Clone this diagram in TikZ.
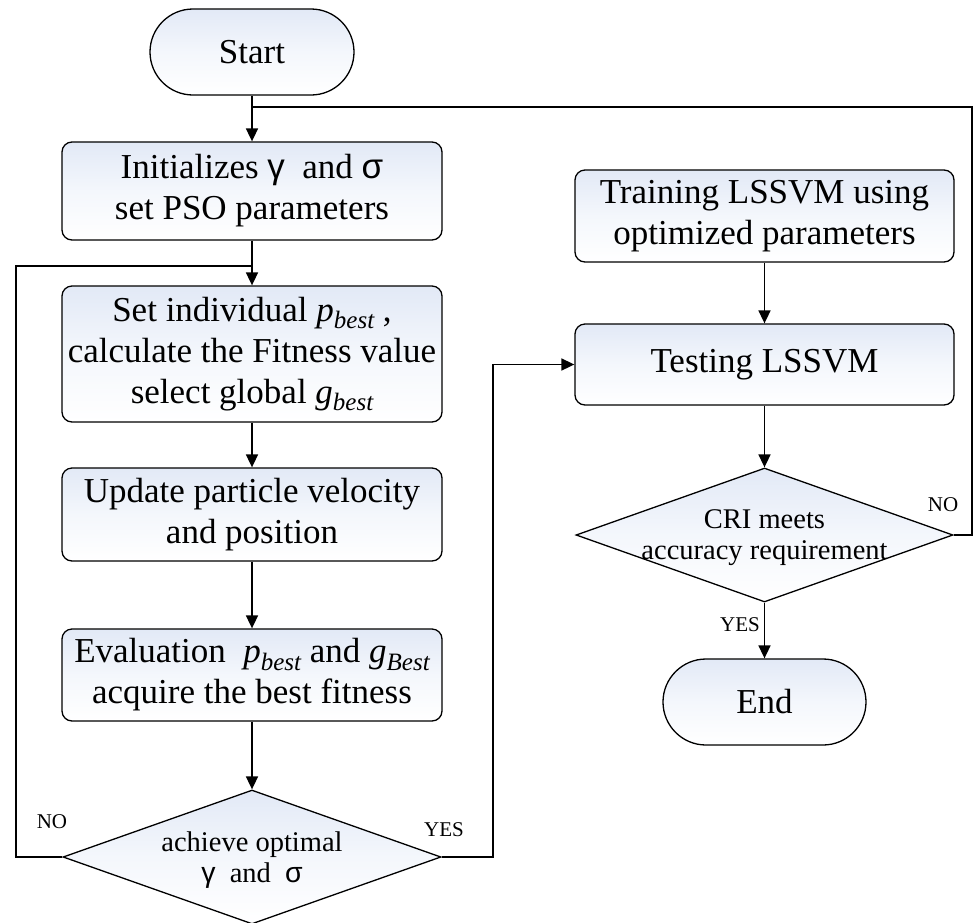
\documentclass[tikz,border=0pt]{standalone}
\usepackage{fontspec}
\setmainfont{Liberation Serif}
\newfontfamily\gfont{Liberation Sans}
\usetikzlibrary{arrows.meta,shapes.geometric}
\definecolor{topc}{RGB}{226,233,246}
\definecolor{midc}{RGB}{244,247,252}
\newcommand{\mysub}[2]{\textit{#1}\raisebox{-0.22em}{\fontsize{25}{25}\selectfont\itshape #2}}
\begin{document}
\begin{tikzpicture}[x=1pt,y=-1pt,
  box/.style={draw, line width=1.3pt, rounded corners=10pt, top color=topc, bottom color=white, middle color=midc,
    minimum width=380pt, align=center, font=\fontsize{35}{41}\selectfont, inner sep=0pt},
  term/.style={box, rounded corners=43pt, minimum width=204pt, minimum height=86pt},
  dec/.style={diamond, draw, line width=1.3pt, top color=topc, bottom color=white, middle color=midc, inner sep=0pt,
    minimum width=378pt, minimum height=134pt},
  dtext/.style={align=center, font=\fontsize{28.5}{31}\selectfont, inner sep=0pt},
  arr/.style={line width=1.7pt, -{Triangle[length=13pt,width=12pt]}},
  ln/.style={line width=1.7pt},
  lab/.style={font=\fontsize{21}{21}\selectfont, inner sep=0pt}]
\useasboundingbox (0,0) rectangle (975,922);
% left column
\node[term] (start) at (252,52) {Start};
\node[box, minimum height=98pt] (init) at (252,191) {Initializes {\gfont γ}\ \ and {\gfont σ}\\set PSO parameters};
\node[box, minimum height=136pt] (set) at (252,354) {Set individual \mysub{p}{best} ,\\calculate the Fitness value\\select global \mysub{g}{best}};
\node[box, minimum height=93pt] (upd) at (252,514.5) {Update particle velocity\\and position};
\node[box, minimum height=92pt] (eval) at (252,675) {Evaluation\ \ \mysub{p}{best} and \mysub{g}{Best}\\acquire the best fitness};
\node[dec] (dia1) at (252,857) {};
\node[dtext] (dia1t) at (252,860) {achieve optimal\\{\gfont γ}\ \ and\ \ {\gfont σ}};
% right column
\node[box, minimum width=379pt, minimum height=92pt] (train) at (764.5,216) {Training LSSVM using\\optimized parameters};
\node[box, minimum width=379pt, minimum height=81pt] (test) at (764.5,364.5) {Testing LSSVM};
\node[dec, minimum width=377pt] (dia2) at (764.5,535) {};
\node[dtext] (dia2t) at (764.5,538) {CRI meets\\accuracy requirement};
\node[term, minimum width=203pt] (end) at (764.5,702) {End};
% junctions
\coordinate (j1) at (252,107);
\coordinate (j2) at (252,266);
% connectors
\draw[arr] (start) -- (init);
\draw[arr] (init) -- (set);
\draw[arr] (set) -- (upd);
\draw[arr] (upd) -- (eval);
\draw[arr] (eval) -- (dia1.north);
\draw[ln] (dia1.west) -- (16,857) |- (j2);
\draw[arr] (dia1.east) -- (493,857) |- (test.west);
\draw[arr] (train) -- (test);
\draw[arr] (test) -- (dia2.north);
\draw[ln] (dia2.east) -- (972,535) |- (j1);
\draw[arr] (dia2.south) -- (end);
% labels
\node[lab] (no1) at (52,822) {NO};
\node[lab] (yes1) at (444,830) {YES};
\node[lab] (no2) at (943,505) {NO};
\node[lab] (yes2) at (740,625) {YES};
\end{tikzpicture}
\end{document}
